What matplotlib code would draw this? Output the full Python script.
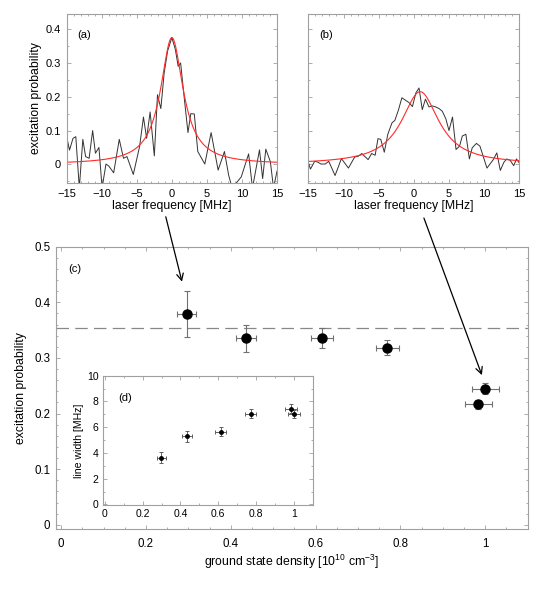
import numpy as np
import matplotlib
matplotlib.use("Agg")
import matplotlib.pyplot as plt
from matplotlib.ticker import MultipleLocator

plt.rcParams['font.family'] = ['Liberation Sans', 'DejaVu Sans']
plt.rcParams['mathtext.default'] = 'regular'
plt.rcParams['font.size'] = 8

# (a) spectrum at low density
freq_a = [-15, -14.6, -14.1, -13.7, -13.2, -12.7, -12.3, -11.8, -11.3, -10.9, -10.4, -9.95,
          -9.4, -9.0, -8.3, -7.5, -6.9, -6.4, -5.5, -4.6, -4.05, -3.6, -3.1, -2.5, -2.05,
          -1.57, -1.1, -0.6, 0.0, 0.5, 0.9, 1.25, 1.8, 2.3, 2.7, 3.2, 3.7, 4.7, 5.6, 6.6,
          7.5, 8.1, 8.6, 9.9, 10.95, 11.5, 12.5, 12.95, 13.4, 14.05, 14.5, 15]
prob_a = [0.082, 0.042, 0.077, 0.082, -0.07, 0.074, 0.023, 0.018, 0.1, 0.033, 0.05, -0.07,
          0.001, -0.005, -0.025, 0.074, 0.018, 0.023, -0.03, 0.053, 0.14, 0.077, 0.155, 0.025,
          0.206, 0.165, 0.27, 0.336, 0.375, 0.34, 0.29, 0.30, 0.19, 0.094, 0.15, 0.149, 0.038,
          0.001, 0.094, -0.017, 0.038, -0.032, -0.07, -0.037, 0.031, -0.07, 0.043, -0.042,
          0.045, 0.008, -0.07, -0.02]

# (b) spectrum at high density
freq_b = [-15, -14.7, -14.1, -13.7, -13.2, -12.6, -12.1, -11.2, -10.3, -9.3, -8.4, -7.9,
          -7.4, -6.5, -6.0, -5.5, -5.1, -4.7, -4.2, -3.7, -3.1, -2.7, -2.2, -1.7, -1.2, -0.7,
          -0.2, 0.3, 0.74, 1.2, 1.65, 2.15, 2.6, 3.1, 3.6, 4.05, 4.55, 5.0, 5.5, 6.0, 6.5,
          6.9, 7.4, 7.9, 8.3, 8.9, 9.4, 10.4, 11.3, 11.8, 12.3, 12.8, 13.2, 13.7, 14.2, 14.6, 15]
prob_b = [0.006, -0.014, 0.009, 0.007, 0.001, 0.001, 0.009, -0.033, 0.017, -0.011, 0.022,
          0.024, 0.032, 0.014, 0.032, 0.027, 0.076, 0.074, 0.036, 0.089, 0.123, 0.13, 0.16,
          0.197, 0.19, 0.183, 0.171, 0.212, 0.226, 0.162, 0.193, 0.17, 0.173, 0.17, 0.165,
          0.157, 0.135, 0.1, 0.14, 0.044, 0.054, 0.084, 0.089, 0.016, 0.049, 0.062, 0.054,
          -0.011, 0.014, 0.034, -0.018, 0.006, 0.016, 0.012, -0.004, 0.016, 0.004]

# Lorentzian fit parameters (amplitude, centre, FWHM in MHz)
fit_a = (0.375, 0.0, 3.9)
fit_b = (0.215, 0.9, 6.5)

# (c) peak excitation probability vs density
density = [0.296, 0.437, 0.614, 0.769, 1.0, 0.984]
density_err = [0.022, 0.0235, 0.026, 0.0276, 0.032, 0.031]
peak_prob = [0.379, 0.335, 0.335, 0.318, 0.244, 0.2165]
peak_err_lo = [0.042, 0.024, 0.017, 0.013, 0.0095, 0.009]
peak_err_hi = [0.041, 0.025, 0.018, 0.014, 0.010, 0.0075]
saturation_level = 0.354

# (d) line width vs density
width_density = [0.298, 0.436, 0.613, 0.773, 0.985, 1.0]
width_density_err = [0.024, 0.027, 0.03, 0.029, 0.031, 0.031]
line_width = [3.61, 5.29, 5.65, 7.06, 7.44, 7.03]
line_width_err = [0.43, 0.43, 0.35, 0.36, 0.35, 0.34]

SPINE = '#a0a0a0'
LABEL_SIZE = 8.8


def lorentz(x, p):
    amp, x0, w = p
    return amp / (1 + (2 * (x - x0) / w) ** 2)


def style(ax, labelsize=8):
    for s in ax.spines.values():
        s.set_color(SPINE)
        s.set_linewidth(0.8)
    ax.tick_params(which='both', direction='in', top=True, right=True,
                   color=SPINE, labelsize=labelsize, width=0.6, pad=4)
    ax.tick_params(which='major', length=3)
    ax.tick_params(which='minor', length=1.5)


fig = plt.figure(figsize=(5.4, 5.94), dpi=100)

ax_a = fig.add_axes([0.1235, 0.692, 0.3895, 0.2845])
ax_b = fig.add_axes([0.571, 0.692, 0.3907, 0.2845])
xs = np.linspace(-15, 15, 400)
for ax, f, p, fit, lab in [(ax_a, freq_a, prob_a, fit_a, '(a)'),
                           (ax_b, freq_b, prob_b, fit_b, '(b)')]:
    ax.plot(f, p, color='#333333', lw=0.7)
    ax.plot(xs, lorentz(xs, fit), color='#ff2a2a', lw=0.8)
    ax.set_xlim(-15, 15)
    ax.set_ylim(-0.055, 0.445)
    ax.xaxis.set_major_locator(MultipleLocator(5))
    ax.xaxis.set_minor_locator(MultipleLocator(1))
    ax.yaxis.set_major_locator(MultipleLocator(0.1))
    ax.yaxis.set_minor_locator(MultipleLocator(0.05))
    ax.set_xlabel('laser frequency [MHz]', fontsize=LABEL_SIZE, labelpad=1)
    ax.text(0.05, 0.875, lab, transform=ax.transAxes, va='center', fontsize=8)
    style(ax)
ax_a.set_yticks([0, 0.1, 0.2, 0.3, 0.4], ['0', '0.1', '0.2', '0.3', '0.4'])
ax_a.set_ylabel('excitation probability', fontsize=LABEL_SIZE, labelpad=3)
ax_b.tick_params(labelleft=False)

ax_c = fig.add_axes([0.1037, 0.109, 0.8735, 0.4758])
ax_c.axhline(saturation_level, color='#888888', lw=0.9, dashes=(10, 5))
ax_c.errorbar(density, peak_prob, xerr=density_err, yerr=[peak_err_lo, peak_err_hi],
              fmt='o', color='black', ms=6.5, ecolor='#707070', elinewidth=0.8,
              capsize=2, capthick=0.8)
ax_c.set_xlim(-0.012, 1.1)
ax_c.set_ylim(-0.008, 0.5)
ax_c.xaxis.set_major_locator(MultipleLocator(0.2))
ax_c.xaxis.set_minor_locator(MultipleLocator(0.05))
ax_c.yaxis.set_major_locator(MultipleLocator(0.1))
ax_c.yaxis.set_minor_locator(MultipleLocator(0.02))
ax_c.set_xticks([0, 0.2, 0.4, 0.6, 0.8, 1.0], ['0', '0.2', '0.4', '0.6', '0.8', '1'])
ax_c.set_yticks([0, 0.1, 0.2, 0.3, 0.4, 0.5], ['0', '0.1', '0.2', '0.3', '0.4', '0.5'])
ax_c.set_xlabel('ground state density [10$^{10}$ cm$^{-3}$]', fontsize=LABEL_SIZE, labelpad=2)
ax_c.set_ylabel('excitation probability', fontsize=LABEL_SIZE, labelpad=5)
ax_c.text(0.026, 0.92, '(c)', transform=ax_c.transAxes, va='center', fontsize=8)
style(ax_c, labelsize=8.3)
ax_c.tick_params(axis='x', pad=6)

ax_d = fig.add_axes([0.190, 0.1498, 0.389, 0.2177])
ax_d.errorbar(width_density, line_width, xerr=width_density_err, yerr=line_width_err,
              fmt='o', color='black', ms=2.5, ecolor='#606060', elinewidth=0.7,
              capsize=1.5, capthick=0.7)
ax_d.set_xlim(-0.012, 1.1)
ax_d.set_ylim(-0.05, 10)
ax_d.xaxis.set_major_locator(MultipleLocator(0.2))
ax_d.xaxis.set_minor_locator(MultipleLocator(0.1))
ax_d.yaxis.set_major_locator(MultipleLocator(2))
ax_d.yaxis.set_minor_locator(MultipleLocator(1))
ax_d.set_xticks([0, 0.2, 0.4, 0.6, 0.8, 1.0], ['0', '0.2', '0.4', '0.6', '0.8', '1'])
ax_d.set_ylabel('line width [MHz]', fontsize=7.6, labelpad=2)
ax_d.text(0.074, 0.825, '(d)', transform=ax_d.transAxes, va='center', fontsize=8)
style(ax_d, labelsize=7.5)
ax_d.tick_params(pad=3)

# arrows linking the spectra to their points in (c)
arrow = dict(arrowstyle='->', color='black', lw=0.9, mutation_scale=12, shrinkA=0, shrinkB=0)
ax_c.annotate('', xy=(0.285, 0.437), xycoords='data',
              xytext=(0.307, 0.635), textcoords='figure fraction', arrowprops=arrow)
ax_c.annotate('', xy=(0.992, 0.269), xycoords='data',
              xytext=(0.785, 0.633), textcoords='figure fraction', arrowprops=arrow)

fig.savefig('out.png', dpi=100)
